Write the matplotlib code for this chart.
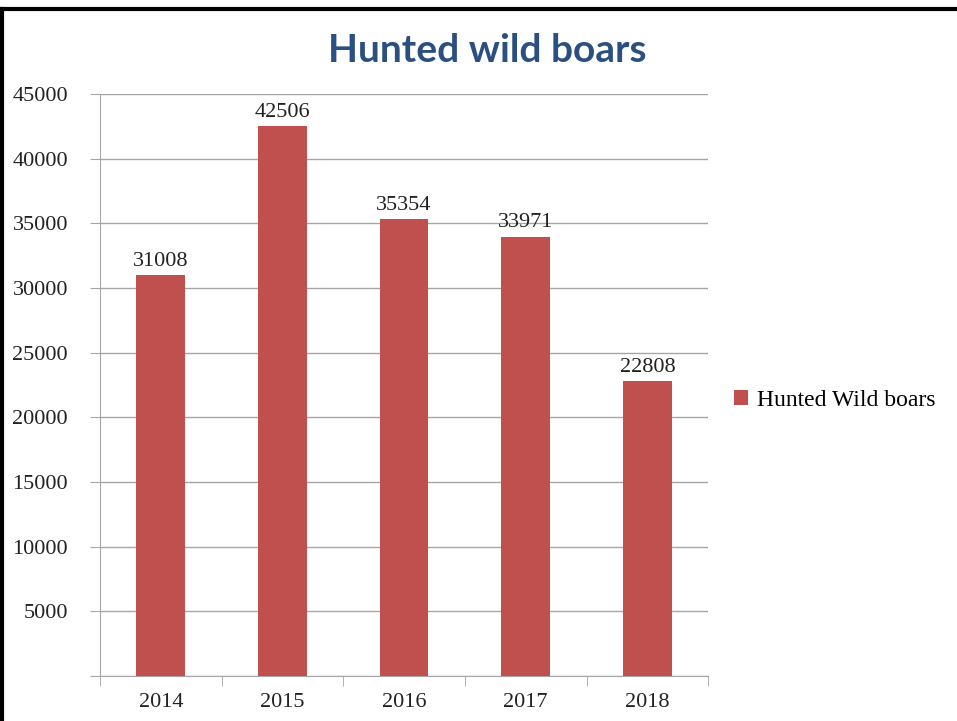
import numpy as np
import matplotlib.pyplot as plt
from matplotlib.lines import Line2D

years = ['2014', '2015', '2016', '2017', '2018']
boars = [31008, 42506, 35354, 33971, 22808]
y_ticks = [0, 5000, 10000, 15000, 20000, 25000, 30000, 35000, 40000, 45000]
y_labels = [''] + [str(v) for v in y_ticks[1:]]

num_font = 'Liberation Serif'
bar_color = '#C0504D'
grid_color = '#a6a6a6'

fig = plt.figure(figsize=(9.57, 7.21), dpi=100)
ax = fig.add_axes([0.1045, 0.0624, 0.6355, 0.8072])

x = np.arange(len(years))
bars = ax.bar(x, boars, width=0.4, color=bar_color, zorder=3,
              label='Hunted Wild boars')

for xi, v in zip(x, boars):
    ax.annotate(str(v), (xi, v), xytext=(0, 3), textcoords='offset points',
                ha='center', va='bottom', fontsize=16, family=num_font,
                color='#222222')

ax.set_xlim(-0.5, len(years) - 0.5)
ax.set_ylim(0, 45000)
ax.set_yticks(y_ticks)
ax.set_yticklabels(y_labels, family=num_font, fontsize=16, color='#222222')
ax.set_xticks(x)
ax.set_xticklabels(years, family=num_font, fontsize=16, color='#222222')
ax.set_xticks(np.arange(-0.5, len(years)), minor=True)
ax.tick_params(axis='x', which='major', length=0, pad=12)
ax.tick_params(axis='x', which='minor', length=7, color=grid_color, direction='out')
ax.tick_params(axis='y', length=7, color=grid_color, pad=16)

ax.grid(axis='y', color=grid_color, linewidth=1, zorder=0)
for s in ['top', 'right']:
    ax.spines[s].set_visible(False)
ax.spines['left'].set_color(grid_color)
ax.spines['bottom'].set_color(grid_color)

fig.text(0.509, 0.93, 'Hunted wild boars', ha='center', va='center',
         fontsize=28, fontweight='bold', family='Lato', color='#2B4F80')

leg = fig.legend(handles=[bars], loc='center left', bbox_to_anchor=(0.745, 0.445),
                 frameon=False, prop={'family': num_font, 'size': 17},
                 handlelength=0.6, handleheight=0.6, handletextpad=0.35)

# frame round the picture (top and left edges visible)
fig.add_artist(Line2D([0.002, 0.002], [0, 0.987], transform=fig.transFigure,
                      color='black', linewidth=3))
fig.add_artist(Line2D([0.0, 1.0], [0.987, 0.987], transform=fig.transFigure,
                      color='black', linewidth=3))

fig.savefig('out.png', dpi=100)
